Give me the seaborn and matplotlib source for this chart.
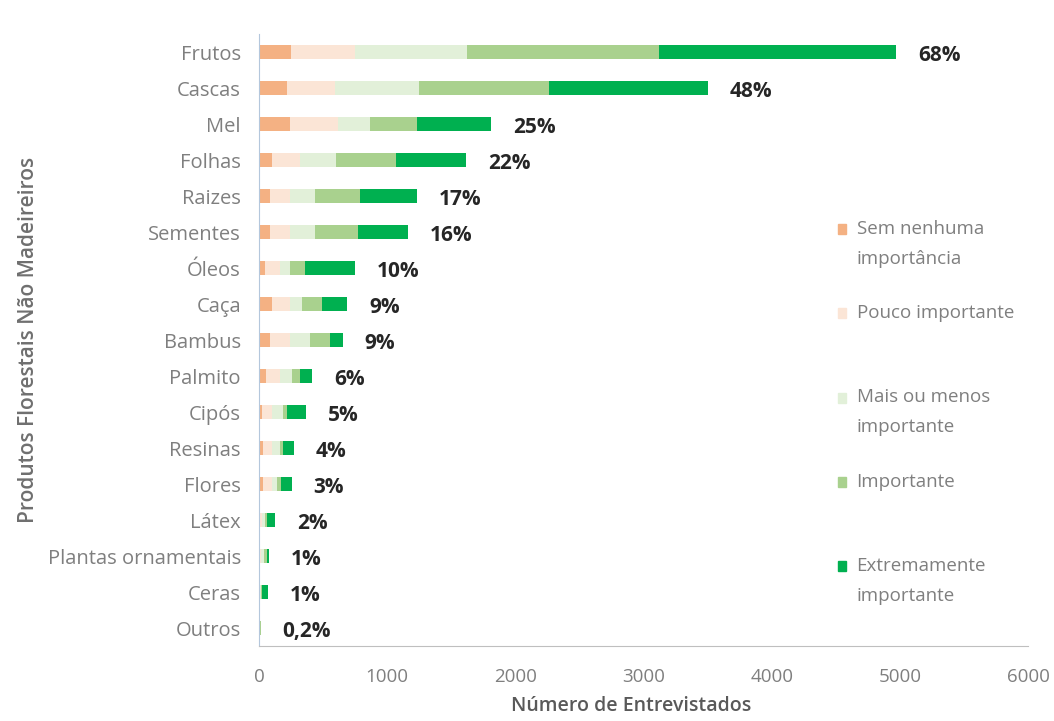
import matplotlib
matplotlib.use("Agg")
import matplotlib.pyplot as plt
import matplotlib.patches as mpatches
from matplotlib.legend_handler import HandlerPatch
import numpy as np
import pandas as pd
import seaborn as sns

# dados (número de entrevistados por nível de importância)
produtos = ["Frutos", "Cascas", "Mel", "Folhas", "Raizes", "Sementes", "Óleos",
            "Caça", "Bambus", "Palmito", "Cipós", "Resinas", "Flores", "Látex",
            "Plantas ornamentais", "Ceras", "Outros"]
sem_nenhuma = [250, 220, 240, 100, 85, 85, 45, 100, 85, 55, 25, 30, 30, 5, 5, 0, 3]
pouco = [500, 370, 375, 220, 160, 160, 120, 140, 160, 110, 75, 70, 70, 15, 10, 5, 3]
mais_ou_menos = [870, 660, 250, 280, 195, 195, 80, 95, 155, 95, 85, 60, 40, 30, 25, 10, 3]
importante = [1500, 1015, 365, 470, 345, 330, 115, 155, 155, 60, 30, 30, 30, 15, 20, 10, 3]
extremamente = [1850, 1240, 580, 545, 450, 390, 390, 200, 100, 95, 155, 85, 85, 60, 20, 45, 3]
percentuais = ["68%", "48%", "25%", "22%", "17%", "16%", "10%", "9%", "9%", "6%",
               "5%", "4%", "3%", "2%", "1%", "1%", "0,2%"]

niveis = ["Sem nenhuma\nimportância", "Pouco importante\n", "Mais ou menos\nimportante",
          "Importante\n", "Extremamente\nimportante"]
cores = ["#F4B183", "#FBE5D6", "#E2F0D9", "#A9D18E", "#00B050"]

df = pd.DataFrame({"produto": produtos, "s0": sem_nenhuma, "s1": pouco,
                   "s2": mais_ou_menos, "s3": importante, "s4": extremamente})
serie_cols = ["s0", "s1", "s2", "s3", "s4"]
cum = df[serie_cols].cumsum(axis=1)

sns.set_style("white")
plt.rcParams["font.family"] = ["Open Sans", "DejaVu Sans"]

fig = plt.figure(figsize=(10.54, 7.21), dpi=100)
ax = fig.add_axes([259 / 1054, 1 - 646 / 721, (1028 - 259) / 1054, (646 - 34) / 721])

# barras empilhadas: desenha do total acumulado para o menor
for i in reversed(range(len(serie_cols))):
    sns.barplot(x=cum[serie_cols[i]], y=df["produto"], color=cores[i], orient="h",
                width=0.4, saturation=1, linewidth=0, ax=ax)

totais = cum["s4"].values
for k, (tot, p) in enumerate(zip(totais, percentuais)):
    ax.text(tot + 170, k + 0.1, p, va="center", ha="left", fontsize=15,
            fontweight="bold", color="#262626")

ax.set_xlim(0, 6000)
ax.set_ylim(len(produtos) - 0.5, -0.5)
ax.set_xticks(range(0, 6001, 1000))
ax.set_xlabel("Número de Entrevistados", fontsize=14, fontweight="semibold",
              color="#595959")
ax.xaxis.set_label_coords(0.484, -0.082)
ax.set_ylabel("Produtos Florestais Não Madeireiros", fontsize=15, fontweight="semibold",
              color="#6f6f6f", labelpad=6)
ax.tick_params(axis="y", length=0, pad=13, labelsize=14.5, labelcolor="#7f7f7f")
ax.tick_params(axis="x", direction="inout", length=5, color="#bfbfbf",
               pad=13, labelsize=13.5, labelcolor="#7f7f7f")
for s in ["top", "right"]:
    ax.spines[s].set_visible(False)
ax.spines["left"].set_color("#b4c7dc")
ax.spines["left"].set_linewidth(0.8)
ax.spines["bottom"].set_color("#bfbfbf")
ax.spines["bottom"].set_linewidth(0.8)

fs_leg = 13.5
ls_leg = 1.86
desloc = 10.8  # pontos: metade do passo entre linhas


def marcador_topo(legend, orig_handle, xdescent, ydescent, width, height, fontsize):
    # marcador alinhado com a primeira linha do rótulo
    return mpatches.Rectangle((-xdescent, -ydescent + desloc), width, height)


handles = [mpatches.Patch(color=c) for c in cores]
leg = fig.legend(handles, niveis, loc="upper left", bbox_to_anchor=(821 / 1054, 1 - 203 / 721),
                 frameon=False, fontsize=fs_leg, labelcolor="#7f7f7f",
                 handlelength=0.45, handleheight=0.45, handletextpad=0.55,
                 labelspacing=1.93,
                 handler_map={mpatches.Patch: HandlerPatch(patch_func=marcador_topo)})
for t in leg.get_texts():
    t.set_linespacing(ls_leg)

fig.savefig("out.png", dpi=100)
plt.close(fig)
